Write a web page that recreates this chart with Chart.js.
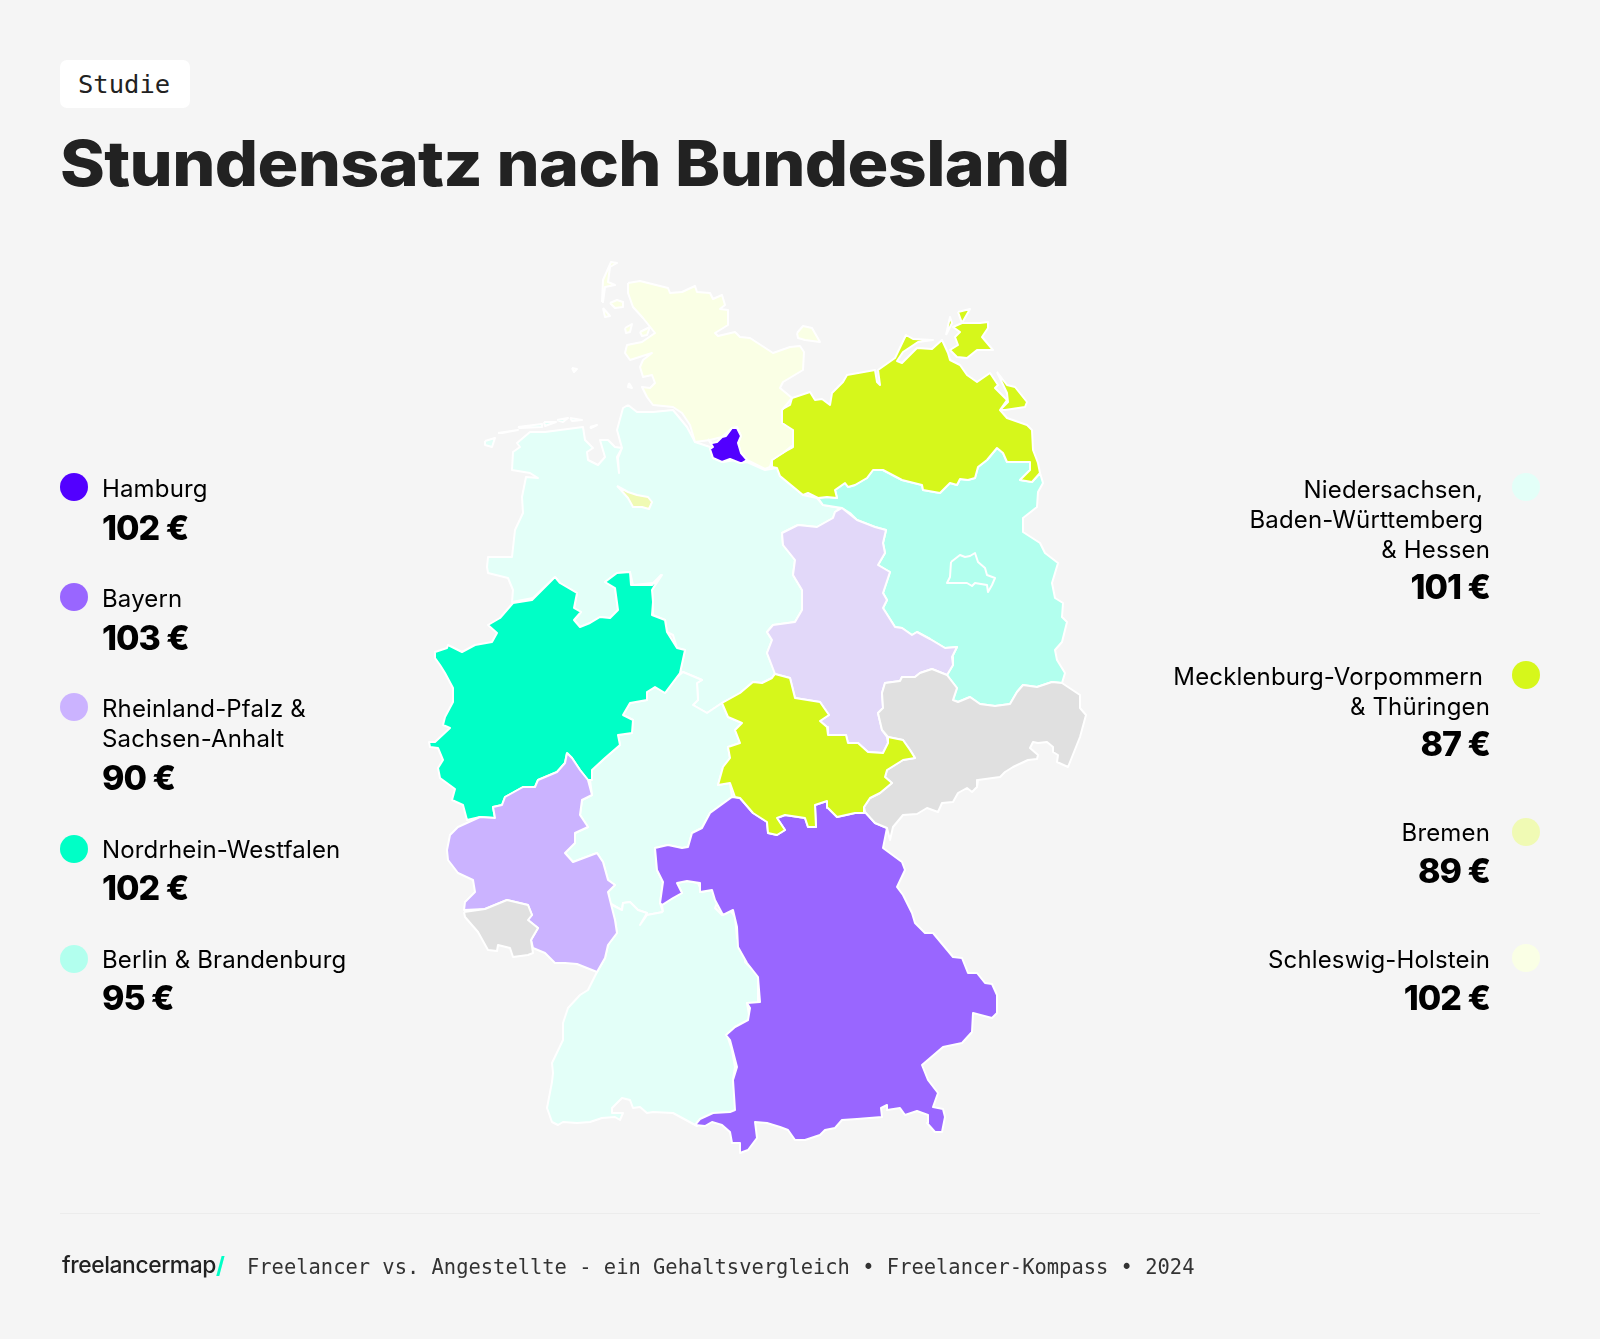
<!DOCTYPE html>
<html lang="de">
<head>
<meta charset="utf-8">
<title>Stundensatz nach Bundesland</title>
<script src="https://cdn.jsdelivr.net/npm/chart.js@4"></script>
<style>
  html, body { margin: 0; padding: 0; background: #f5f5f5; }
  body { position: relative; width: 1600px; height: 1339px; overflow: hidden; font-family: Inter, sans-serif; color: #000; }
  #map { position: absolute; left: 0; top: 0; }
  .badge { position: absolute; left: 60px; top: 60px; width: 130px; height: 48px; background: #fff; border-radius: 7px; }
  .studie { position: absolute; left: 78px; top: 68px; font: 25.5px/32px "DejaVu Sans Mono", monospace; color: #222; }
  .title { position: absolute; left: 60px; top: 125px; font-size: 63px; line-height: 76px; font-weight: 800; color: #222; white-space: nowrap; transform-origin: left top; transform: scaleX(1.08); letter-spacing: -0.6px; }
  .rule { position: absolute; left: 60px; top: 1213px; width: 1480px; height: 1px; background: #ececec; }
  .logo { position: absolute; left: 62px; top: 1250px; font-size: 22.8px; line-height: 30px; font-weight: 500; color: #222; letter-spacing: -0.4px; }
  .logo span { color: #00ffc6; font-weight: 700; }
  .source { position: absolute; left: 247px; top: 1253px; font: 20.45px/28px "DejaVu Sans Mono", monospace; color: #333; white-space: nowrap; }
  .label { position: absolute; font-size: 24px; line-height: 30px; font-weight: 400; white-space: pre; letter-spacing: 0.15px; }
  .value { position: absolute; font-size: 34px; line-height: 40px; font-weight: 800; white-space: pre; letter-spacing: -1px; }
  .dot { position: absolute; width: 28px; height: 28px; border-radius: 50%; }
</style>
</head>
<body>
<canvas id="map" width="1600" height="1339"></canvas>
<div class="badge"></div>
<div class="studie">Studie</div>
<div class="title">Stundensatz nach Bundesland</div>
<div class="rule"></div>
<div class="logo">freelancermap<span>/</span></div>
<div class="source">Freelancer vs. Angestellte - ein Gehaltsvergleich • Freelancer-Kompass • 2024</div>
<script>
// Legend
const leftLabels = ['Hamburg', 'Bayern', 'Rheinland-Pfalz &\nSachsen-Anhalt', 'Nordrhein-Westfalen', 'Berlin & Brandenburg'];
const leftValues = [102, 103, 90, 102, 95];
const leftColors = ['#5200ff', '#9966ff', '#cbb3ff', '#00ffc6', '#b2ffee'];
const rightLabels = ['Niedersachsen, \nBaden-Württemberg \n& Hessen', 'Mecklenburg-Vorpommern \n& Thüringen', 'Bremen', 'Schleswig-Holstein'];
const rightValues = [101, 87, 89, 102];
const rightColors = ['#e3fff8', '#d6f71b', '#f0fab4', '#faffe5'];
const gray = '#e0e0e0';
const saColor = '#e2d8f9';

// State outlines
const schleswigHolstein = [[628,283],[640,281],[668,288],[670,293],[682,292],[695,286],[697,292],[710,293],[713,299],[722,295],[725,305],[720,309],[728,310],[728,325],[715,333],[718,336],[735,332],[740,337],[750,338],[773,353],[790,347],[800,346],[804,352],[803,370],[783,382],[780,388],[792,398],[782,410],[782,423],[793,430],[793,445],[783,453],[772,460],[770,467],[765,469],[747,460],[741,453],[738,443],[741,436],[737,427],[732,428],[722,437],[710,440],[695,442],[690,425],[682,413],[673,407],[653,405],[647,397],[642,387],[650,388],[655,383],[652,375],[643,377],[640,367],[643,360],[652,353],[630,360],[625,353],[627,345],[642,342],[655,333],[643,318],[633,307],[628,293]];
const fehmarn = [[797,333],[803,326],[812,328],[820,342],[805,340],[798,338]];
const sylt = [[602,302],[603,280],[611,262],[617,263],[610,267],[608,282],[615,285],[605,287],[603,302]];
const foehr = [[610,303],[617,300],[623,302],[623,307],[615,308]];
const amrum = [[603,308],[610,316],[605,317]];
const pellworm = [[625,328],[632,324],[630,332],[626,333]];
const nordstrand = [[640,332],[650,327],[647,335],[642,336]];
const helgoland = [[572,368],[577,369],[574,372]];
const hamburg = [[708,439],[712,443],[717,442],[722,437],[726,436],[732,428],[737,428],[741,436],[738,443],[741,453],[747,460],[742,463],[740,463],[730,459],[722,462],[713,458],[710,449],[713,447]];
const bremen = [[617,486],[628,492],[637,495],[648,497],[652,502],[649,509],[642,507],[633,507],[628,498],[620,489]];
const niedersachsen = [[628,405],[637,412],[653,412],[673,410],[687,427],[695,442],[710,447],[713,458],[723,462],[735,460],[740,463],[747,462],[765,470],[777,468],[780,476],[803,495],[817,498],[823,505],[840,508],[835,512],[833,518],[817,527],[798,525],[782,533],[783,545],[795,560],[793,575],[802,590],[802,610],[795,622],[773,625],[767,632],[772,640],[767,653],[775,673],[772,678],[762,683],[753,682],[740,693],[722,703],[707,713],[693,705],[698,700],[697,683],[702,680],[683,672],[680,673],[685,650],[677,648],[673,635],[667,632],[665,620],[653,615],[653,603],[652,590],[662,575],[653,583],[633,585],[630,572],[617,573],[605,582],[615,588],[618,610],[610,618],[600,617],[590,623],[580,627],[574,620],[581,612],[574,608],[577,593],[560,583],[555,577],[533,598],[512,602],[513,590],[508,578],[488,573],[487,567],[488,557],[512,557],[515,530],[523,513],[522,497],[526,477],[538,478],[530,473],[512,470],[513,452],[520,447],[517,443],[530,432],[545,432],[583,427],[585,440],[593,448],[587,452],[588,460],[598,465],[605,457],[600,440],[608,440],[615,447],[622,448],[618,458],[619,473],[617,457],[622,448],[617,430],[623,408]];
const frisianA = [[485,441],[495,438],[492,447],[485,445]];
const frisianB = [[498,433],[518,430],[502,433]];
const frisianC = [[518,427],[542,424],[542,427],[520,428]];
const frisianD = [[544,422],[556,422],[545,426]];
const frisianE = [[557,420],[568,418],[563,422]];
const frisianF = [[570,418],[582,420],[572,421]];
const frisianG = [[590,427],[597,425],[591,428]];
const neuwerk = [[629,383],[632,388],[628,387]];
const mecklenburg = [[772,460],[782,453],[793,447],[793,432],[782,423],[781,410],[790,405],[792,398],[810,392],[815,400],[822,399],[830,405],[832,393],[843,382],[847,375],[875,370],[877,382],[880,385],[878,370],[895,358],[906,335],[913,339],[933,340],[918,342],[903,352],[897,361],[902,363],[917,348],[932,349],[942,340],[948,353],[950,360],[960,365],[967,375],[977,382],[990,373],[998,385],[995,388],[1007,400],[1000,410],[1007,418],[1027,425],[1032,430],[1033,450],[1038,463],[1040,473],[1032,482],[1020,480],[1030,470],[1030,462],[1007,462],[1003,453],[997,448],[987,460],[978,467],[975,478],[968,480],[960,479],[957,485],[950,483],[940,493],[923,490],[922,485],[902,480],[883,470],[873,470],[867,478],[855,485],[848,487],[845,483],[835,490],[837,498],[827,497],[818,498],[808,493],[803,495],[780,476],[777,468],[772,467]];
const ruegen = [[958,312],[970,309],[962,323],[980,323],[988,322],[988,328],[982,337],[993,350],[977,350],[967,358],[957,357],[950,350],[958,345],[955,337],[960,332],[953,327],[962,323]];
const hiddensee = [[946,335],[950,317],[952,323]];
const usedom = [[997,372],[1007,385],[1015,387],[1027,402],[1025,407],[1005,410],[1000,410],[1008,402],[1007,393]];
const brandenburg = [[818,498],[827,497],[837,498],[835,490],[845,483],[848,487],[855,485],[867,478],[873,470],[883,470],[902,480],[922,485],[923,490],[940,493],[950,483],[957,485],[960,479],[968,480],[975,478],[978,467],[987,460],[997,448],[1003,453],[1007,462],[1030,462],[1030,470],[1020,480],[1032,482],[1040,473],[1043,483],[1038,492],[1037,507],[1023,518],[1023,532],[1040,543],[1045,553],[1058,563],[1052,583],[1055,598],[1063,603],[1062,617],[1067,622],[1062,642],[1055,650],[1057,660],[1065,673],[1062,683],[1052,682],[1037,687],[1023,685],[1017,692],[1010,704],[995,706],[980,704],[970,697],[958,702],[953,700],[957,688],[947,675],[953,665],[952,657],[957,647],[945,648],[930,639],[917,632],[912,635],[902,628],[895,627],[883,608],[887,600],[883,593],[890,572],[878,565],[885,553],[883,543],[886,530],[875,527],[857,520],[850,513],[842,508],[823,505]];
const berlin = [[951,562],[960,555],[965,557],[970,556],[975,553],[978,562],[985,568],[987,575],[995,578],[992,585],[988,592],[987,585],[975,583],[972,586],[967,583],[957,583],[947,583],[950,577]];
const sachsenAnhalt = [[842,508],[857,520],[875,527],[886,530],[883,543],[885,553],[878,565],[890,572],[883,593],[887,600],[883,608],[895,627],[902,628],[912,635],[917,632],[930,639],[945,648],[957,647],[952,657],[953,665],[947,675],[932,669],[920,673],[915,677],[902,677],[900,681],[885,683],[882,693],[883,708],[878,713],[882,730],[887,737],[888,743],[883,753],[868,752],[858,743],[848,743],[846,735],[828,735],[827,727],[820,721],[829,715],[820,702],[795,698],[790,678],[775,674],[767,653],[772,640],[767,632],[773,625],[795,622],[802,610],[802,590],[793,575],[795,560],[783,545],[782,533],[798,525],[817,527],[833,518],[835,512]];
const sachsen = [[947,675],[957,688],[953,700],[958,702],[970,697],[980,704],[995,706],[1010,704],[1017,692],[1023,685],[1037,687],[1052,682],[1062,683],[1080,695],[1080,708],[1086,715],[1080,737],[1072,757],[1068,767],[1057,762],[1058,755],[1053,752],[1053,747],[1047,742],[1038,743],[1033,742],[1030,748],[1038,755],[1037,759],[1028,760],[1013,767],[1005,772],[1000,777],[978,780],[977,787],[972,792],[967,788],[958,793],[953,802],[942,803],[938,812],[927,808],[917,814],[903,815],[893,827],[890,840],[887,828],[875,823],[865,812],[864,807],[870,798],[880,793],[892,783],[885,777],[887,770],[903,760],[915,758],[910,750],[903,740],[888,737],[882,730],[878,713],[883,708],[882,693],[885,683],[900,681],[902,677],[915,677],[920,673],[932,669]];
const thueringen = [[775,674],[790,678],[795,698],[820,702],[829,715],[820,721],[827,727],[828,735],[846,735],[848,743],[858,743],[868,752],[883,753],[888,743],[888,737],[903,740],[910,750],[915,758],[903,760],[887,770],[885,777],[892,783],[880,793],[870,798],[864,807],[864,813],[855,813],[837,817],[828,808],[827,801],[815,805],[816,827],[808,827],[805,818],[785,815],[777,818],[785,830],[777,835],[768,833],[767,822],[753,813],[740,798],[735,797],[730,783],[718,785],[723,767],[730,758],[728,747],[740,743],[735,730],[742,723],[728,717],[722,703],[740,693],[753,682],[762,683],[772,678]];
const hessen = [[683,672],[702,680],[697,683],[698,700],[693,705],[707,713],[722,703],[728,717],[742,723],[735,730],[740,743],[728,747],[730,758],[723,767],[718,785],[730,783],[732,797],[710,813],[702,828],[692,833],[688,847],[682,848],[668,845],[655,848],[657,870],[663,882],[660,903],[663,912],[647,915],[640,925],[647,913],[638,910],[630,902],[623,903],[622,910],[610,903],[608,892],[615,885],[608,880],[603,862],[597,853],[573,862],[565,853],[575,843],[575,833],[588,827],[580,815],[582,800],[592,795],[590,780],[592,770],[605,758],[620,745],[618,735],[632,733],[633,720],[623,715],[630,703],[647,700],[647,692],[655,687],[665,693],[677,677]];
const rheinlandPfalz = [[567,753],[572,758],[580,770],[588,780],[592,795],[582,800],[580,815],[588,827],[575,833],[575,843],[565,853],[573,862],[597,853],[603,862],[608,880],[615,885],[608,892],[615,920],[617,933],[608,945],[605,958],[597,972],[577,964],[565,963],[555,963],[545,953],[533,948],[531,940],[538,928],[528,920],[532,915],[528,905],[507,900],[485,909],[464,910],[465,902],[475,892],[473,880],[458,873],[448,860],[447,850],[450,835],[458,827],[480,817],[495,818],[493,807],[502,805],[505,797],[523,787],[535,787],[538,780],[557,772],[565,763]];
const nrw = [[555,577],[560,583],[577,593],[574,608],[581,612],[574,620],[580,627],[590,623],[600,617],[610,618],[618,610],[615,588],[605,582],[617,573],[630,572],[631,585],[652,585],[661,575],[652,590],[653,602],[652,615],[665,620],[667,632],[677,648],[685,650],[680,673],[677,677],[665,693],[655,687],[647,692],[647,700],[630,703],[623,715],[633,720],[632,733],[618,735],[620,745],[605,758],[592,770],[592,780],[588,780],[580,770],[572,758],[567,753],[565,763],[557,772],[538,780],[535,787],[523,787],[505,797],[502,805],[493,807],[495,818],[480,817],[467,820],[463,805],[452,800],[455,789],[440,778],[438,768],[443,760],[438,748],[430,747],[429,742],[435,742],[450,728],[443,725],[445,717],[453,702],[453,688],[445,673],[440,665],[435,658],[435,652],[447,648],[448,645],[462,652],[475,645],[492,642],[497,633],[488,625],[500,618],[513,603],[532,600]];
const saarland = [[464,912],[485,909],[507,900],[528,905],[532,915],[528,920],[538,928],[531,940],[533,953],[528,955],[513,957],[510,948],[498,945],[497,951],[488,950],[478,932],[465,917]];
const badenWuerttemberg = [[663,912],[662,905],[673,898],[682,893],[677,883],[687,881],[698,883],[702,892],[712,890],[717,903],[715,908],[722,915],[730,910],[735,917],[737,938],[745,952],[745,962],[758,975],[758,995],[758,1003],[747,1003],[750,1020],[735,1027],[727,1035],[732,1050],[735,1067],[733,1080],[735,1098],[735,1112],[730,1113],[715,1113],[697,1126],[673,1113],[653,1112],[647,1113],[640,1107],[633,1108],[630,1100],[622,1098],[612,1108],[612,1113],[623,1113],[620,1120],[615,1117],[602,1118],[590,1122],[577,1123],[563,1122],[558,1125],[552,1122],[547,1108],[552,1082],[553,1073],[552,1063],[563,1040],[563,1023],[568,1008],[580,995],[588,990],[597,972],[605,958],[608,945],[617,933],[615,920],[608,903],[622,910],[623,903],[630,902],[638,910],[647,913],[640,925],[647,915]];
const bayern = [[655,848],[668,845],[682,848],[688,847],[692,833],[702,828],[710,813],[732,797],[740,798],[753,813],[767,822],[768,833],[777,835],[785,830],[777,818],[785,815],[805,818],[808,827],[816,827],[815,805],[827,801],[828,808],[837,817],[855,813],[864,813],[865,812],[875,823],[887,828],[883,848],[902,862],[905,870],[897,887],[903,895],[912,913],[915,923],[925,933],[933,933],[953,957],[962,958],[968,973],[977,973],[985,983],[992,984],[997,995],[997,1013],[992,1018],[973,1013],[972,1032],[962,1043],[943,1047],[922,1065],[928,1080],[938,1093],[933,1107],[943,1109],[945,1117],[942,1132],[935,1132],[927,1123],[928,1115],[917,1111],[905,1115],[900,1108],[887,1110],[887,1105],[881,1108],[882,1117],[857,1119],[842,1120],[835,1128],[825,1130],[820,1135],[805,1140],[795,1140],[788,1130],[780,1127],[767,1123],[755,1122],[757,1138],[748,1150],[740,1153],[740,1143],[732,1143],[730,1132],[722,1125],[712,1122],[705,1126],[695,1125],[700,1119],[713,1113],[730,1112],[735,1110],[733,1080],[737,1067],[730,1040],[726,1035],[735,1027],[748,1020],[750,1008],[747,1003],[760,1002],[758,977],[747,963],[738,947],[737,927],[733,910],[723,915],[715,900],[712,890],[700,892],[700,883],[687,881],[677,883],[682,893],[673,898],[662,905],[660,903],[663,882],[657,870]];

// Baselines of the legend rows
const leftBaselines = [498, 608, 718, 859, 969];
const rightBaselines = [499, 686, 842, 969];
const leftValueBaselines = [540, 650, 790, 900, 1010];
const rightValueBaselines = [599, 756, 883, 1010];
const leftDots = [487, 597, 707, 849, 959];
const rightDots = [487, 675, 832, 958];

function addDiv(cls, text, css) {
  const el = document.createElement('div');
  el.className = cls;
  el.textContent = text;
  Object.assign(el.style, css);
  document.body.appendChild(el);
}

function addLegend(labels, values, colors, baselines, valueBaselines, dots, right) {
  labels.forEach((label, i) => {
    const side = right ? { right: '110px', textAlign: 'right' } : { left: '102px' };
    addDiv('label', label, { ...side, top: (baselines[i] - 24) + 'px' });
    addDiv('value', values[i] + ' €', { ...side, top: (valueBaselines[i] - 32) + 'px' });
    addDiv('dot', '', { left: (right ? 1512 : 60) + 'px', top: (dots[i] - 14) + 'px', background: colors[i] });
  });
}

addLegend(leftLabels, leftValues, leftColors, leftBaselines, leftValueBaselines, leftDots, false);
addLegend(rightLabels, rightValues, rightColors, rightBaselines, rightValueBaselines, rightDots, true);

function state(points, color) {
  return {
    data: points.concat([points[0]]).map(p => ({ x: p[0], y: p[1] })),
    showLine: true,
    fill: 'shape',
    backgroundColor: color,
    borderColor: '#ffffff',
    borderWidth: 2,
    borderJoinStyle: 'round',
    pointRadius: 0,
    tension: 0
  };
}

const sh = rightColors[3];
const ni = rightColors[0];
const mv = rightColors[1];

// Chart.js paints the first dataset last, so the enclaves go first
new Chart(document.getElementById('map').getContext('2d'), {
  type: 'scatter',
  data: {
    datasets: [
      state(hamburg, leftColors[0]),
      state(bremen, rightColors[2]),
      state(berlin, leftColors[4]),
      state(schleswigHolstein, sh),
      state(fehmarn, sh),
      state(sylt, sh),
      state(foehr, sh),
      state(amrum, sh),
      state(pellworm, sh),
      state(nordstrand, sh),
      state(helgoland, sh),
      state(mecklenburg, mv),
      state(ruegen, mv),
      state(hiddensee, mv),
      state(usedom, mv),
      state(thueringen, mv),
      state(sachsen, gray),
      state(saarland, gray),
      state(sachsenAnhalt, saColor),
      state(rheinlandPfalz, leftColors[2]),
      state(nrw, leftColors[3]),
      state(brandenburg, leftColors[4]),
      state(bayern, leftColors[1]),
      state(badenWuerttemberg, ni),
      state(hessen, ni),
      state(niedersachsen, ni),
      state(frisianA, ni),
      state(frisianB, ni),
      state(frisianC, ni),
      state(frisianD, ni),
      state(frisianE, ni),
      state(frisianF, ni),
      state(frisianG, ni),
      state(neuwerk, ni)
    ]
  },
  options: {
    responsive: false,
    animation: false,
    devicePixelRatio: 1,
    events: [],
    layout: { padding: 0 },
    plugins: { legend: { display: false }, tooltip: { enabled: false } },
    scales: {
      x: { type: 'linear', min: 0, max: 1600, display: false },
      y: { type: 'linear', min: 0, max: 1339, reverse: true, display: false }
    }
  }
});
</script>
</body>
</html>
